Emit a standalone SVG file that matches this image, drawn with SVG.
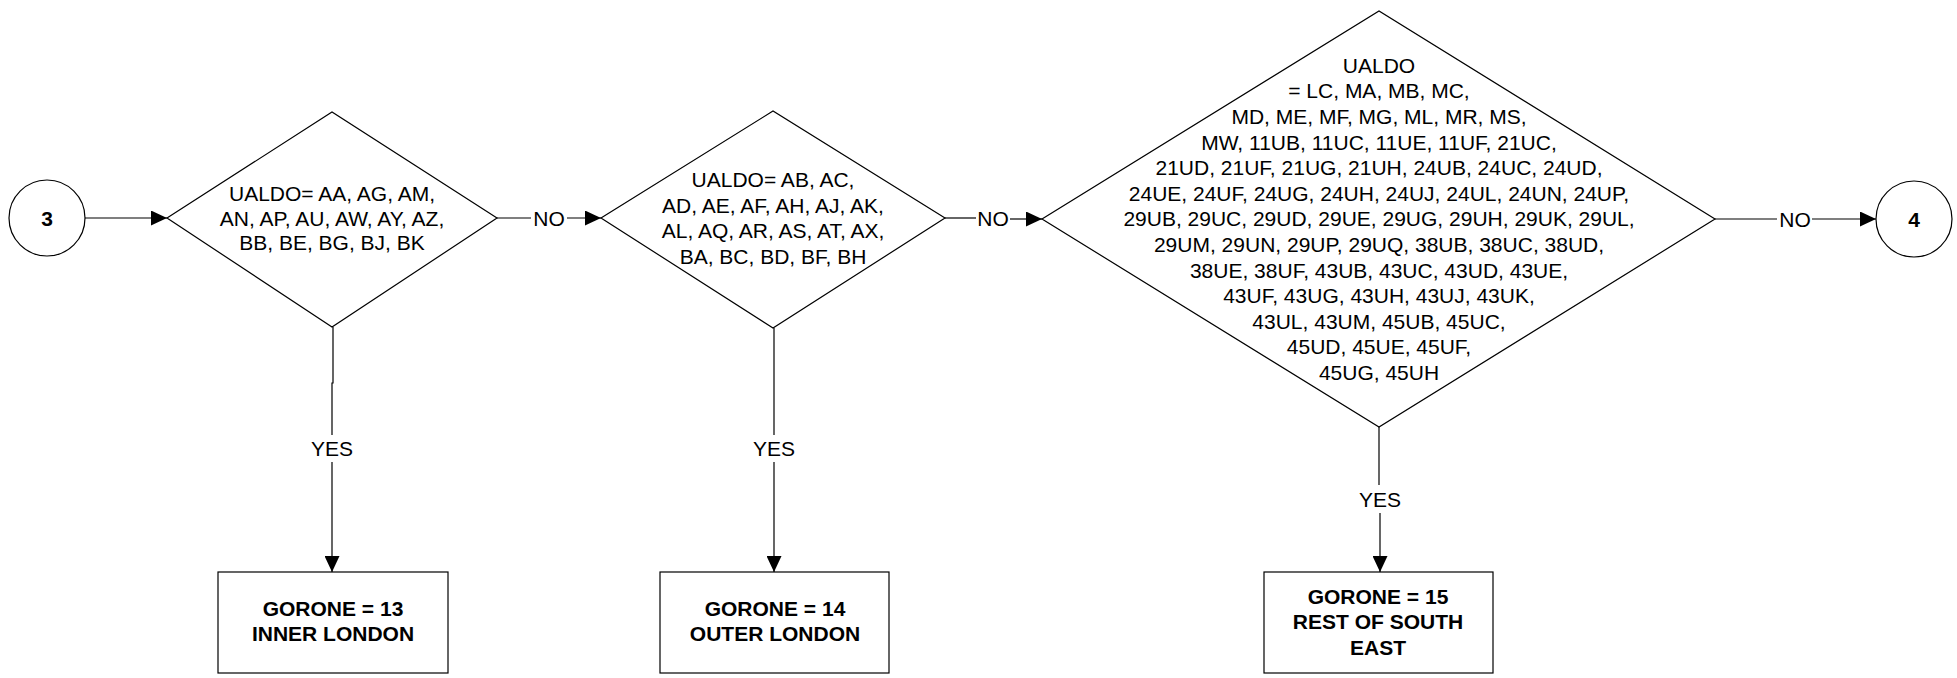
<svg xmlns="http://www.w3.org/2000/svg" width="1957" height="678" viewBox="0 0 1957 678">
<style>
.shape{fill:#fff;stroke:#000;stroke-width:1.2}
.t{font-family:"Liberation Sans",Arial,sans-serif;font-size:21px;fill:#000;text-anchor:middle}
.b{font-weight:bold}
.c{fill:none;stroke:#000;stroke-width:1.2}
</style>
<defs>
<marker id="ah" markerUnits="userSpaceOnUse" markerWidth="16" markerHeight="15" refX="16" refY="7.5" orient="auto">
<path d="M0,0 L16,7.5 L0,15 Z" fill="#000"/>
</marker>
</defs>
<rect width="1957" height="678" fill="#fff"/>
<g id="connectors">
<path class="c" d="M85,218 H167" marker-end="url(#ah)"/>
<path class="c" d="M497,218 H531"/>
<path class="c" d="M567,218 H601" marker-end="url(#ah)"/>
<text class="t" x="549" y="225.6">NO</text>
<path class="c" d="M945,218 H976"/>
<path class="c" d="M1010,219 H1042" marker-end="url(#ah)"/>
<text class="t" x="993" y="225.6">NO</text>
<path class="c" d="M1715,219 H1777"/>
<path class="c" d="M1812,219 H1876" marker-end="url(#ah)"/>
<text class="t" x="1795" y="226.6">NO</text>
<path class="c" d="M333,327 V383 H332 V435"/>
<path class="c" d="M332,462 V572" marker-end="url(#ah)"/>
<text class="t" x="332" y="455.6">YES</text>
<path class="c" d="M774,328 V435"/>
<path class="c" d="M774,462 V572" marker-end="url(#ah)"/>
<text class="t" x="774" y="455.6">YES</text>
<path class="c" d="M1379,427 V485"/>
<path class="c" d="M1380,513 V572" marker-end="url(#ah)"/>
<text class="t" x="1380" y="506.6">YES</text>
</g>
<g id="start3">
<circle class="shape" cx="47" cy="218" r="38"/>
<text class="t b" x="47" y="225.5">3</text>
</g>
<g id="decision1">
<polygon class="shape" points="167,218 332,112 497,218 332,327"/>
<text class="t" x="332" y="201">UALDO= AA, AG, AM,</text>
<text class="t" x="332" y="225.5">AN, AP, AU, AW, AY, AZ,</text>
<text class="t" x="332" y="250">BB, BE, BG, BJ, BK</text>
</g>
<g id="decision2">
<polygon class="shape" points="601,218 773,111 945,218 773,328"/>
<text class="t" x="773" y="187.2">UALDO= AB, AC,</text>
<text class="t" x="773" y="212.8">AD, AE, AF, AH, AJ, AK,</text>
<text class="t" x="773" y="238.4">AL, AQ, AR, AS, AT, AX,</text>
<text class="t" x="773" y="264">BA, BC, BD, BF, BH</text>
</g>
<g id="decision3">
<polygon class="shape" points="1042,219 1379,11 1715,219 1379,427"/>
<text class="t" x="1379" y="72.7">UALDO</text>
<text class="t" x="1379" y="98.3">= LC, MA, MB, MC,</text>
<text class="t" x="1379" y="123.9">MD, ME, MF, MG, ML, MR, MS,</text>
<text class="t" x="1379" y="149.5">MW, 11UB, 11UC, 11UE, 11UF, 21UC,</text>
<text class="t" x="1379" y="175.1">21UD, 21UF, 21UG, 21UH, 24UB, 24UC, 24UD,</text>
<text class="t" x="1379" y="200.7">24UE, 24UF, 24UG, 24UH, 24UJ, 24UL, 24UN, 24UP,</text>
<text class="t" x="1379" y="226.3">29UB, 29UC, 29UD, 29UE, 29UG, 29UH, 29UK, 29UL,</text>
<text class="t" x="1379" y="251.9">29UM, 29UN, 29UP, 29UQ, 38UB, 38UC, 38UD,</text>
<text class="t" x="1379" y="277.5">38UE, 38UF, 43UB, 43UC, 43UD, 43UE,</text>
<text class="t" x="1379" y="303.1">43UF, 43UG, 43UH, 43UJ, 43UK,</text>
<text class="t" x="1379" y="328.7">43UL, 43UM, 45UB, 45UC,</text>
<text class="t" x="1379" y="354.3">45UD, 45UE, 45UF,</text>
<text class="t" x="1379" y="379.9">45UG, 45UH</text>
</g>
<g id="end4">
<circle class="shape" cx="1914" cy="219" r="38"/>
<text class="t b" x="1914" y="226.5">4</text>
</g>
<g id="result13">
<rect class="shape" x="218" y="572" width="230" height="101"/>
<text class="t b" x="333" y="615.6">GORONE = 13</text>
<text class="t b" x="333" y="640.6">INNER LONDON</text>
</g>
<g id="result14">
<rect class="shape" x="660" y="572" width="229" height="101"/>
<text class="t b" x="775" y="615.6">GORONE = 14</text>
<text class="t b" x="775" y="640.6">OUTER LONDON</text>
</g>
<g id="result15">
<rect class="shape" x="1264" y="572" width="229" height="101"/>
<text class="t b" x="1378" y="603.6">GORONE = 15</text>
<text class="t b" x="1378" y="629.4">REST OF SOUTH</text>
<text class="t b" x="1378" y="654.8">EAST</text>
</g>
</svg>
